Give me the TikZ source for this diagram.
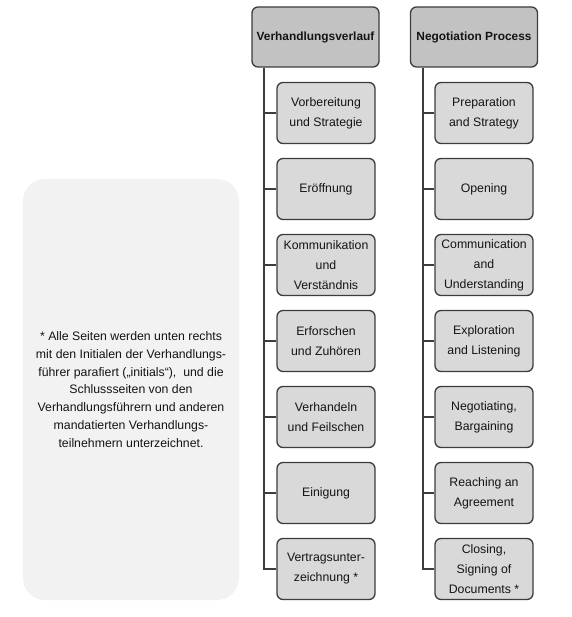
\documentclass[tikz,border=0pt]{standalone}
\usepackage{fontspec}
\setmainfont{Liberation Sans}
\definecolor{linec}{HTML}{3C3C3C}
\definecolor{hdrfill}{HTML}{C2C2C2}
\definecolor{itemfill}{HTML}{D9D9D9}
\definecolor{notefill}{HTML}{F2F2F2}
\definecolor{txt}{HTML}{141414}
\begin{document}
\begin{tikzpicture}[x=1pt,y=-1pt,
  hdr/.style={draw=linec, line width=1.3pt, fill=hdrfill, rounded corners=6pt,
    minimum width=127pt, minimum height=60pt, inner sep=0pt, text=txt,
    font=\fontsize{11.9}{14}\selectfont\bfseries},
  item/.style={draw=linec, line width=1.3pt, fill=itemfill, rounded corners=6pt,
    minimum width=98pt, minimum height=61pt, inner sep=0pt, align=center, text=txt,
    font=\fontsize{12.3}{20}\selectfont},
  notebox/.style={fill=notefill, rounded corners=22pt, minimum width=216pt,
    minimum height=421pt, inner sep=0pt, align=center, text=txt,
    font=\fontsize{12.3}{17.8}\selectfont},
  conn/.style={draw=linec, line width=1.2pt}]
\useasboundingbox (0,0) rectangle (571,617);
\node[notebox] (note) at (131,389.5) {* Alle Seiten werden unten rechts\\mit den Initialen der Verhandlungs-\\führer parafiert („initials“), \ und die\\Schlussseiten von den\\Verhandlungsführern und anderen\\mandatierten Verhandlungs-\\teilnehmern unterzeichnet.};
\coordinate (vL) at (264,0);
\coordinate (vR) at (423,0);
\node[hdr] (h1) at (315.5,37) {Verhandlungsverlauf};
\node[hdr] (h2) at (474,37) {Negotiation Process};
\node[item] (a1) at (326,113) {Vorbereitung\\und Strategie};
\node[item] (a2) at (326,189) {Eröffnung};
\node[item] (a3) at (326,265) {Kommunikation\\und\\Verständnis};
\node[item] (a4) at (326,341) {Erforschen\\und Zuhören};
\node[item] (a5) at (326,417) {Verhandeln\\und Feilschen};
\node[item] (a6) at (326,493) {Einigung};
\node[item] (a7) at (326,569) {Vertragsunter-\\zeichnung *};
\node[item] (b1) at (484,113) {Preparation\\and Strategy};
\node[item] (b2) at (484,189) {Opening};
\node[item] (b3) at (484,265) {Communication\\and\\Understanding};
\node[item] (b4) at (484,341) {Exploration\\and Listening};
\node[item] (b5) at (484,417) {Negotiating,\\Bargaining};
\node[item] (b6) at (484,493) {Reaching an\\Agreement};
\node[item] (b7) at (484,569) {Closing,\\Signing of\\Documents *};
\draw[conn] (h1.south -| vL) -- (a7.west -| vL) -- (a7.west);
\draw[conn] (h2.south -| vR) -- (b7.west -| vR) -- (b7.west);
\foreach \i in {1,...,6} {
  \draw[conn] (a\i.west -| vL) -- (a\i.west);
  \draw[conn] (b\i.west -| vR) -- (b\i.west);
}
\end{tikzpicture}
\end{document}
